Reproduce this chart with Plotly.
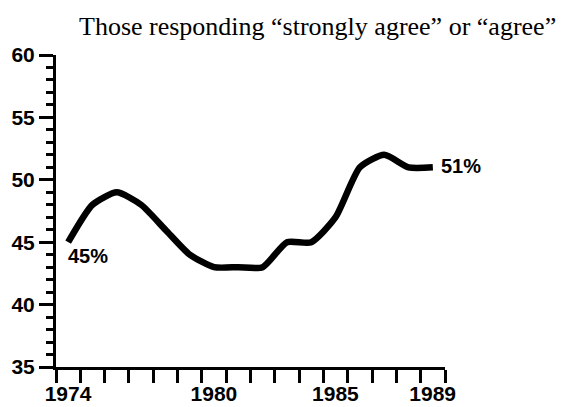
import plotly.graph_objects as go

years = list(range(1974, 1990))
agree_pct = [45, 48, 49, 48, 46, 44, 43, 43, 43, 45, 45, 47, 51, 52, 51, 51]
year_labels = [1974, 1980, 1985, 1989]
y_ticks = [35, 40, 45, 50, 55, 60]
title_text = "Those responding \u201cstrongly agree\u201d or \u201cagree\u201d"

# ticks at year boundaries, labels shifted to year centers
boundaries = [y - 0.5 for y in range(1974, 1991)]
tick_text = [str(int(b + 0.5)) if int(b + 0.5) in year_labels else "" for b in boundaries]

fig = go.Figure()
fig.add_trace(go.Scatter(
    x=years, y=agree_pct, mode="lines",
    line=dict(color="black", width=6.5, shape="spline", smoothing=0.6),
    hoverinfo="skip", showlegend=False,
))

bold = dict(family="Liberation Sans, Arial, sans-serif", size=20, color="black", weight="bold")
tickf = dict(family="Liberation Sans, Arial, sans-serif", size=21, color="black", weight="bold")

fig.add_annotation(x=years[0], y=agree_pct[0] - 1.1, text=f"{agree_pct[0]}%", showarrow=False,
                   xanchor="left", yanchor="middle", font=bold, xshift=-2)
fig.add_annotation(x=years[-1], y=agree_pct[-1] + 0.1, text=f"{agree_pct[-1]}%", showarrow=False,
                   xanchor="left", yanchor="middle", font=bold, xshift=6)
fig.add_annotation(xref="paper", yref="paper", x=(317 - 56) / 389, y=(367 - 26) / 312, text=title_text,
                   showarrow=False, xanchor="center", yanchor="middle",
                   font=dict(family="Liberation Serif, Times New Roman, serif", size=26, color="black"))

fig.update_xaxes(
    range=[1973.5, 1989.5], tickmode="array", tickvals=boundaries, ticktext=tick_text,
    ticks="outside", ticklen=13, tickwidth=3, tickcolor="black",
    showline=True, linewidth=3, linecolor="black", showgrid=False, zeroline=False,
    ticklabelshift=12, ticklabelstandoff=-7, tickfont=tickf, automargin=False,
)
fig.update_yaxes(
    range=[35, 60], tickmode="array", tickvals=y_ticks,
    ticks="outside", ticklen=14, tickwidth=3, tickcolor="black",
    minor=dict(dtick=1, tick0=35, ticks="outside", ticklen=7, tickwidth=3, tickcolor="black", showgrid=False),
    showline=True, linewidth=3, linecolor="black", showgrid=False, zeroline=False,
    tickfont=tickf, automargin=False,
)
fig.update_layout(
    width=558, height=399, margin=dict(l=48, r=121, t=47, b=40),
    plot_bgcolor="white", paper_bgcolor="white",
)
fig.write_html("out.html")
